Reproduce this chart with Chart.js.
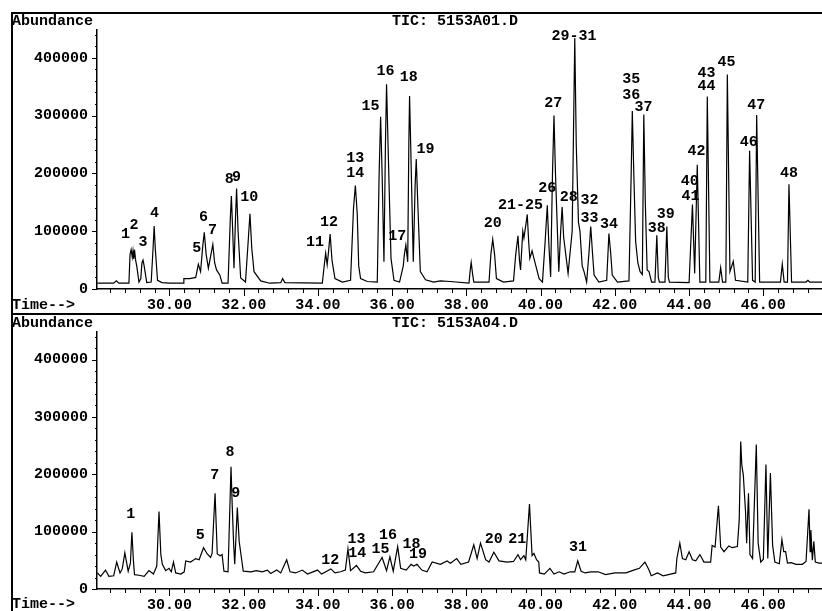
<!DOCTYPE html>
<html lang="en">
<head>
<meta charset="UTF-8">
<title>TIC 5153A01.D / 5153A04.D</title>
<script src="https://cdn.jsdelivr.net/npm/chart.js"></script>
<style>
    body {
        margin: 0;
        background: #fff;
        width: 822px;
        height: 611px;
        overflow: hidden;
        position: relative;
        font-family: "Liberation Mono", "DejaVu Sans Mono", monospace;
        font-weight: bold;
        font-size: 15px;
        color: #000;
    }
    canvas {
        position: absolute;
        left: 0;
    }
    #topChart { top: 0; }
    #bottomChart { top: 313px; }
    .line {
        position: absolute;
        background: #000;
    }
    .txt {
        position: absolute;
        line-height: 15px;
        white-space: pre;
    }
</style>
</head>
<body>
    <canvas id="topChart" width="822" height="313"></canvas>
    <canvas id="bottomChart" width="822" height="298"></canvas>

    <div class="line" style="left:11px; top:12px; width:811px; height:2px;"></div>
    <div class="line" style="left:11px; top:12px; width:2px; height:599px;"></div>
    <div class="line" style="left:11px; top:313px; width:811px; height:2px;"></div>

    <div class="txt" style="left:12px; top:14px;">Abundance</div>
    <div class="txt" style="left:392px; top:14px;">TIC: 5153A01.D</div>
    <div class="txt" style="left:12px; top:298px;">Time--&gt;</div>
    <div class="txt" style="left:12px; top:316px;">Abundance</div>
    <div class="txt" style="left:392px; top:316px;">TIC: 5153A04.D</div>
    <div class="txt" style="left:12px; top:597px;">Time--&gt;</div>

<script>
const timesA = [
    28.06, 28.50, 28.57, 28.64, 28.91, 28.94, 28.97, 29.00, 29.02, 29.04, 29.06, 29.09, 29.12, 29.18,
    29.23, 29.26, 29.29, 29.32, 29.39, 29.51, 29.56, 29.59, 29.62, 29.68, 29.80, 30.00, 30.38, 30.39,
    30.55, 30.71, 30.78, 30.84, 30.90, 30.94, 30.99, 31.05, 31.12, 31.17, 31.22, 31.27, 31.36, 31.42,
    31.58, 31.64, 31.67, 31.70, 31.74, 31.78, 31.81, 31.85, 31.92, 32.05, 32.12, 32.17, 32.22, 32.28,
    32.46, 32.70, 33.00, 33.05, 33.11, 34.12, 34.17, 34.21, 34.25, 34.28, 34.33, 34.38, 34.46, 34.66,
    34.88, 34.96, 35.01, 35.06, 35.10, 35.15, 35.33, 35.60, 35.65, 35.69, 35.73, 35.78, 35.82, 35.85,
    35.89, 35.93, 35.97, 36.05, 36.20, 36.30, 36.33, 36.37, 36.42, 36.45, 36.47, 36.50, 36.57, 36.62,
    36.65, 36.69, 36.76, 36.90, 37.12, 37.30, 37.56, 38.07, 38.10, 38.13, 38.17, 38.20, 38.61, 38.66,
    38.71, 38.76, 38.81, 39.00, 39.27, 39.33, 39.39, 39.43, 39.46, 39.52, 39.55, 39.60, 39.64, 39.68,
    39.71, 39.77, 39.82, 39.96, 40.05, 40.12, 40.18, 40.22, 40.27, 40.32, 40.36, 40.40, 40.49, 40.54,
    40.58, 40.62, 40.74, 40.85, 40.92, 40.96, 41.02, 41.06, 41.12, 41.17, 41.24, 41.30, 41.35, 41.40,
    41.44, 41.57, 41.78, 41.84, 41.89, 41.93, 42.07, 42.38, 42.44, 42.47, 42.51, 42.56, 42.62, 42.68,
    42.74, 42.78, 42.82, 42.87, 42.92, 42.99, 43.08, 43.13, 43.17, 43.20, 43.35, 43.40, 43.44, 43.47,
    44.00, 44.09, 44.15, 44.22, 44.29, 44.45, 44.49, 44.56, 44.80, 44.85, 44.90, 44.99, 45.03, 45.10,
    45.19, 45.25, 45.58, 45.63, 45.71, 45.78, 45.82, 45.90, 46.46, 46.51, 46.56, 46.65, 46.69, 46.76,
    47.15, 47.20, 47.25, 47.58
];
const abundA = [
    10000, 10000, 14000, 10000, 10000, 60000, 68000, 55000, 66000, 52000, 68000, 50000, 40000, 12000,
    18000, 45000, 50000, 40000, 11000, 12000, 70000, 109000, 70000, 15000, 11000, 10000, 10000, 18000,
    18000, 20000, 43000, 30000, 75000, 98000, 60000, 36000, 60000, 77000, 45000, 33000, 24000, 10000,
    10000, 120000, 161000, 110000, 36000, 120000, 174000, 100000, 19000, 12000, 80000, 130000, 70000, 30000,
    14000, 10000, 11000, 18000, 11000, 10000, 40000, 62000, 42000, 60000, 95000, 50000, 18000, 12000,
    15000, 140000, 179000, 130000, 40000, 18000, 13000, 12000, 200000, 298000, 200000, 47000, 250000, 354000,
    250000, 150000, 53000, 15000, 12000, 40000, 60000, 76000, 47000, 250000, 334000, 250000, 47000, 180000,
    225000, 150000, 30000, 16000, 12000, 14000, 13000, 10000, 30000, 46000, 25000, 12000, 12000, 60000,
    86000, 60000, 18000, 12000, 14000, 60000, 92000, 50000, 33000, 100000, 88000, 110000, 129000, 80000,
    53000, 66000, 53000, 18000, 12000, 80000, 145000, 80000, 21000, 200000, 300000, 200000, 30000, 100000,
    142000, 90000, 27000, 100000, 434000, 250000, 115000, 100000, 40000, 30000, 12000, 60000, 108000, 60000,
    24000, 12000, 15000, 96000, 60000, 24000, 12000, 14000, 200000, 308000, 200000, 82000, 45000, 30000,
    25000, 302000, 150000, 33000, 30000, 12000, 12000, 93000, 20000, 12000, 12000, 108000, 20000, 12000,
    11000, 146000, 27000, 215000, 12000, 12000, 333000, 12000, 12000, 37000, 12000, 12000, 371000, 30000,
    48000, 15000, 12000, 239000, 15000, 12000, 301000, 12000, 12000, 43000, 12000, 12000, 181000, 12000,
    12000, 15000, 12000, 12000
];

const timesB = [
    28.06, 28.15, 28.28, 28.37, 28.50, 28.58, 28.67, 28.73, 28.80, 28.89, 28.95, 28.99, 29.03, 29.06,
    29.18, 29.32, 29.45, 29.57, 29.66, 29.72, 29.77, 29.81, 29.90, 29.99, 30.05, 30.11, 30.17, 30.31,
    30.40, 30.44, 30.57, 30.71, 30.80, 30.92, 31.02, 31.11, 31.15, 31.23, 31.29, 31.37, 31.42, 31.47,
    31.58, 31.66, 31.69, 31.73, 31.76, 31.83, 31.88, 31.99, 32.20, 32.34, 32.50, 32.64, 32.73, 32.89,
    33.00, 33.16, 33.25, 33.40, 33.58, 33.72, 33.99, 34.10, 34.35, 34.46, 34.61, 34.74, 34.81, 34.88,
    35.04, 35.15, 35.28, 35.50, 35.73, 35.85, 35.94, 36.03, 36.15, 36.23, 36.38, 36.51, 36.58, 36.67,
    36.80, 36.94, 37.08, 37.30, 37.48, 37.57, 37.74, 37.85, 38.06, 38.20, 38.29, 38.38, 38.52, 38.61,
    38.74, 38.88, 39.10, 39.27, 39.39, 39.46, 39.55, 39.60, 39.70, 39.77, 39.82, 39.89, 39.95, 39.97,
    40.10, 40.25, 40.36, 40.50, 40.63, 40.80, 40.92, 41.00, 41.09, 41.20, 41.35, 41.55, 41.75, 42.00,
    42.30, 42.51, 42.66, 42.81, 42.92, 42.98, 43.15, 43.30, 43.64, 43.67, 43.75, 43.82, 43.91, 44.00,
    44.09, 44.18, 44.29, 44.40, 44.58, 44.62, 44.70, 44.79, 44.85, 44.94, 45.07, 45.16, 45.30, 45.35,
    45.39, 45.42, 45.46, 45.52, 45.55, 45.60, 45.64, 45.71, 45.81, 45.86, 45.93, 46.00, 46.07, 46.12,
    46.19, 46.25, 46.31, 46.43, 46.50, 46.55, 46.60, 46.65, 46.75, 46.88, 47.05, 47.15, 47.23, 47.26,
    47.28, 47.32, 47.36, 47.40, 47.50, 47.58
];
const abundB = [
    28000, 22000, 33000, 22000, 23000, 47000, 28000, 35000, 63000, 31000, 45000, 99000, 50000, 25000,
    24000, 22000, 32000, 26000, 40000, 135000, 60000, 43000, 32000, 36000, 30000, 47000, 28000, 26000,
    30000, 49000, 47000, 53000, 51000, 72000, 61000, 55000, 62000, 167000, 61000, 58000, 60000, 31000,
    30000, 213000, 150000, 80000, 43000, 142000, 83000, 31000, 30000, 32000, 30000, 33000, 27000, 33000,
    28000, 51000, 30000, 28000, 33000, 26000, 33000, 26000, 35000, 28000, 30000, 33000, 70000, 32000,
    41000, 31000, 28000, 30000, 55000, 32000, 56000, 31000, 74000, 36000, 33000, 43000, 40000, 43000,
    33000, 30000, 47000, 43000, 49000, 45000, 53000, 43000, 47000, 77000, 53000, 80000, 51000, 47000,
    64000, 49000, 47000, 48000, 60000, 51000, 58000, 51000, 148000, 58000, 62000, 51000, 47000, 28000,
    26000, 36000, 26000, 30000, 26000, 30000, 30000, 49000, 31000, 28000, 30000, 30000, 25000, 28000,
    28000, 33000, 36000, 47000, 33000, 23000, 28000, 23000, 28000, 53000, 80000, 53000, 51000, 65000,
    51000, 49000, 60000, 47000, 47000, 76000, 73000, 145000, 73000, 65000, 75000, 72000, 74000, 120000,
    257000, 216000, 199000, 135000, 80000, 167000, 60000, 53000, 252000, 80000, 47000, 52000, 217000, 53000,
    202000, 76000, 47000, 44000, 86000, 65000, 65000, 45000, 46000, 43000, 43000, 48000, 139000, 65000,
    103000, 50000, 83000, 47000, 45000, 45000
];

// numéros des pics (texte, temps, abondance du centre du texte)
const peakNamesA = ['1', '2', '3', '4', '5', '6', '7', '8', '9', '10', '11', '12', '13', '14', '15', '16',
    '17', '18', '19', '20', '21-25', '26', '27', '28', '29-31', '32', '33', '34', '35', '36', '37', '38',
    '39', '40', '41', '42', '43', '44', '45', '46', '47', '48'];
const peakTimesA = [28.82, 29.05, 29.29, 29.60, 30.74, 30.92, 31.16, 31.61, 31.81, 32.15, 33.92, 34.30,
    35.01, 35.01, 35.42, 35.82, 36.14, 36.45, 36.90, 38.71, 39.46, 40.18, 40.34, 40.76, 40.90, 41.32,
    41.32, 41.84, 42.44, 42.44, 42.77, 43.13, 43.37, 44.02, 44.04, 44.20, 44.47, 44.47, 45.01, 45.61,
    45.81, 46.69];
const peakLevelsA = [94600, 110700, 80800, 131000, 70400, 125000, 102000, 190000, 194000, 158000, 80800,
    116000, 227000, 200000, 317000, 377000, 92000, 366000, 242000, 114000, 145000, 174000, 321000, 158000,
    438000, 154000, 123000, 112000, 363000, 336000, 315000, 105000, 129000, 186000, 160000, 238000, 373000,
    350000, 392000, 254000, 318000, 201000];

const peakNamesB = ['1', '5', '7', '8', '9', '12', '13', '14', '15', '16', '18', '19', '20', '21', '31'];
const peakTimesB = [28.96, 30.83, 31.22, 31.63, 31.79, 34.33, 35.04, 35.06, 35.69, 35.89, 36.52, 36.70,
    38.74, 39.37, 41.01];
const peakLevelsB = [130000, 93000, 198000, 239000, 167000, 51000, 87000, 63000, 70000, 94000, 78000,
    60000, 87000, 86000, 72000];

const yTicks = [0, 100000, 200000, 300000, 400000];
const xLabels = ['30.00', '32.00', '34.00', '36.00', '38.00', '40.00', '42.00', '44.00', '46.00'];

// ---- réglages communs ----
const FONT = { family: "'Liberation Mono', 'DejaVu Sans Mono', monospace", size: 15, weight: 'bold' };
const T_MIN = 28.05, T_MAX = 47.58, Y_MAX = 448000;

function isMajor(v) {
    return xLabels.includes(v.toFixed(2));
}

function makePeakPlugin(names, times, levels) {
    return {
        id: 'peaks',
        afterDraw(chart) {
            const c = chart.ctx, xs = chart.scales.x, ys = chart.scales.y;
            c.save();
            c.strokeStyle = '#000';
            c.lineWidth = 1;
            // graduations de l'axe des temps
            xs.ticks.forEach(t => {
                const px = Math.round(xs.getPixelForValue(t.value)) + 0.5;
                c.beginPath();
                c.moveTo(px, ys.bottom);
                c.lineTo(px, ys.bottom + (isMajor(t.value) ? 7 : 4));
                c.stroke();
            });
            // graduations de l'axe des abondances
            for (let v = 0; v <= Y_MAX; v += 20000) {
                const py = Math.round(ys.getPixelForValue(v)) + 0.5;
                const len = yTicks.includes(v) ? 5 : 2;
                c.beginPath();
                c.moveTo(xs.left - len, py);
                c.lineTo(xs.left, py);
                c.stroke();
            }
            // numéros des pics
            c.fillStyle = '#000';
            c.font = 'bold ' + FONT.size + 'px ' + FONT.family;
            c.textAlign = 'center';
            c.textBaseline = 'middle';
            names.forEach((n, i) => {
                c.fillText(n, xs.getPixelForValue(times[i]), ys.getPixelForValue(levels[i]));
            });
            c.restore();
        }
    };
}

function createChart(id, times, abund, names, peakT, peakV, padTop, axisHeight) {
    const points = times.map((t, i) => ({ x: t, y: abund[i] }));
    return new Chart(document.getElementById(id), {
        type: 'line',
        data: {
            datasets: [{
                data: points,
                borderColor: '#000',
                borderWidth: 1.2,
                pointRadius: 0,
                tension: 0,
                fill: false
            }]
        },
        options: {
            responsive: false,
            animation: false,
            layout: { padding: { top: padTop, right: 0, left: 0, bottom: 0 } },
            plugins: { legend: { display: false }, tooltip: { enabled: false } },
            scales: {
                x: {
                    type: 'linear',
                    min: T_MIN,
                    max: T_MAX,
                    afterFit: s => { s.height = axisHeight; },
                    grid: { display: false, drawTicks: false },
                    border: { display: true, color: '#000', width: 1.5 },
                    ticks: {
                        stepSize: 0.4,
                        includeBounds: false,
                        autoSkip: false,
                        maxRotation: 0,
                        padding: 7,
                        color: '#000',
                        font: FONT,
                        callback: v => isMajor(v) ? v.toFixed(2) : ''
                    }
                },
                y: {
                    min: 0,
                    max: Y_MAX,
                    afterFit: s => { s.width = 97; },
                    afterBuildTicks: s => { s.ticks = yTicks.map(v => ({ value: v })); },
                    grid: { display: false, drawTicks: false },
                    border: { display: true, color: '#000', width: 1.5 },
                    ticks: {
                        autoSkip: false,
                        padding: 9,
                        color: '#000',
                        font: FONT,
                        callback: v => String(v)
                    }
                }
            }
        },
        plugins: [makePeakPlugin(names, peakT, peakV)]
    });
}

createChart('topChart', timesA, abundA, peakNamesA, peakTimesA, peakLevelsA, 30, 24);
createChart('bottomChart', timesB, abundB, peakNamesB, peakTimesB, peakLevelsB, 19, 22);
</script>
</body>
</html>
